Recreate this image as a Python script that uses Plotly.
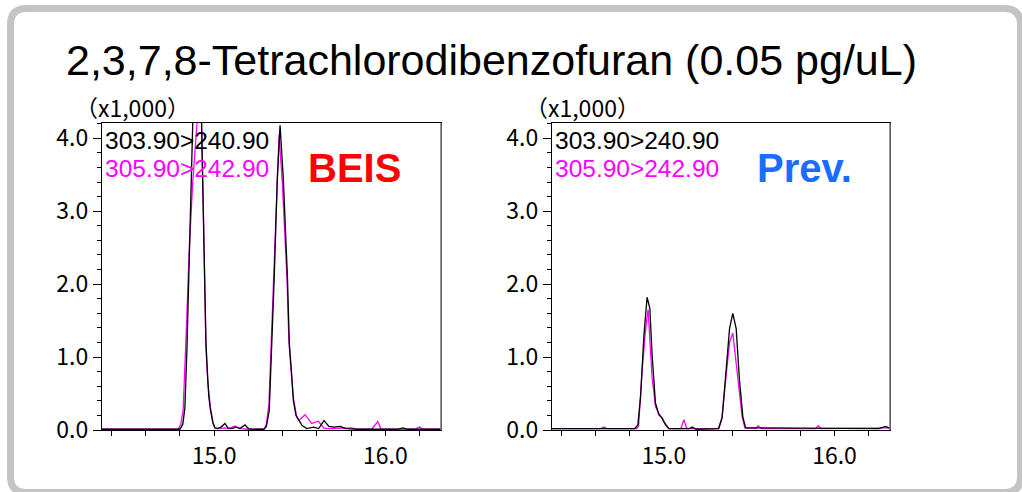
import plotly.graph_objects as go

W, H = 1022, 492

title_text = "2,3,7,8-Tetrachlorodibenzofuran (0.05 pg/uL)"
scale_text = "（x1,000）"
trace_names = ["303.90>240.90", "305.90>242.90"]
panel_labels = ["BEIS", "Prev."]
ytick_vals = [0.0, 1.0, 2.0, 3.0, 4.0]
xtick_vals = [15.0, 16.0]

# ---- BEIS panel (intensity in x1,000) ----
beis_black_t = [14.345, 14.700, 14.800, 14.817, 14.829, 14.841, 14.852, 14.864, 14.876, 14.888,
                14.902, 14.917, 14.928, 14.942, 14.952, 14.962, 14.969, 14.979, 14.993, 15.004,
                15.020, 15.040, 15.063, 15.080, 15.100, 15.130, 15.150, 15.180, 15.200, 15.230,
                15.290, 15.305, 15.322, 15.351, 15.369, 15.385, 15.404, 15.428, 15.439, 15.452,
                15.463, 15.478, 15.492, 15.514, 15.541, 15.580, 15.610, 15.642, 15.670, 15.700,
                15.736, 15.770, 15.850, 16.070, 16.103, 16.130, 16.330]
beis_black_i = [0.01, 0.01, 0.01, 0.08, 0.30, 1.10, 2.10, 3.30, 4.40, 5.40,
                5.90, 5.40, 4.00, 2.10, 1.20, 0.73, 0.45, 0.27, 0.10, 0.03,
                0.02, 0.04, 0.09, 0.03, 0.02, 0.04, 0.02, 0.07, 0.02, 0.01,
                0.01, 0.05, 0.27, 2.10, 3.45, 4.18, 3.45, 2.10, 1.19, 0.78,
                0.40, 0.20, 0.14, 0.06, 0.02, 0.04, 0.02, 0.13, 0.05, 0.04,
                0.05, 0.02, 0.01, 0.01, 0.03, 0.01, 0.01]

beis_mag_t = [14.345, 14.790, 14.805, 14.819, 14.838, 14.855, 14.875, 14.897, 14.912, 14.927,
              14.934, 14.942, 14.952, 14.963, 14.979, 14.993, 15.004, 15.030, 15.060, 15.090,
              15.120, 15.150, 15.200, 15.292, 15.305, 15.320, 15.348, 15.366, 15.379, 15.398,
              15.425, 15.437, 15.450, 15.462, 15.482, 15.495, 15.531, 15.570, 15.609, 15.640,
              15.660, 15.700, 15.804, 15.830, 15.920, 15.956, 15.975, 16.170, 16.200, 16.220,
              16.330]
beis_mag_i = [0.01, 0.01, 0.08, 0.27, 1.40, 2.50, 3.40, 4.21, 4.60, 4.21,
              3.20, 2.10, 1.15, 0.65, 0.30, 0.10, 0.03, 0.02, 0.03, 0.02,
              0.055, 0.02, 0.01, 0.01, 0.08, 0.35, 2.10, 3.40, 4.05, 3.40,
              2.10, 1.20, 0.75, 0.45, 0.18, 0.13, 0.21, 0.09, 0.12, 0.03,
              0.02, 0.02, 0.03, 0.01, 0.01, 0.115, 0.01, 0.01, 0.04, 0.01,
              0.01]

# ---- Prev. panel ----
prev_black_t = [14.345, 14.800, 14.830, 14.848, 14.864, 14.883, 14.902, 14.918, 14.931, 14.951,
                14.971, 14.990, 15.010, 15.029, 15.150, 15.166, 15.190, 15.322, 15.342, 15.365,
                15.385, 15.404, 15.424, 15.443, 15.463, 15.479, 16.260, 16.299, 16.325]
prev_black_i = [0.02, 0.02, 0.02, 0.07, 0.46, 1.28, 1.82, 1.67, 1.05, 0.37,
                0.21, 0.16, 0.07, 0.02, 0.02, 0.04, 0.01, 0.02, 0.18, 0.82,
                1.39, 1.60, 1.39, 0.69, 0.18, 0.03, 0.02, 0.05, 0.02]

prev_mag_t = [14.345, 14.630, 14.649, 14.665, 14.840, 14.852, 14.873, 14.892, 14.908, 14.931,
              14.951, 14.975, 14.990, 15.000, 15.029, 15.100, 15.117, 15.135, 15.320, 15.340,
              15.365, 15.385, 15.404, 15.429, 15.459, 15.475, 15.540, 15.552, 15.570, 15.890,
              15.904, 15.920, 16.310, 16.325]
prev_mag_i = [0.02, 0.02, 0.04, 0.02, 0.02, 0.05, 0.82, 1.35, 1.65, 0.73,
              0.32, 0.21, 0.17, 0.12, 0.02, 0.02, 0.14, 0.02, 0.02, 0.15,
              0.75, 1.20, 1.33, 0.82, 0.18, 0.03, 0.02, 0.06, 0.02, 0.02,
              0.06, 0.02, 0.02, 0.03]

BLACK = "#000000"
MAGENTA = "#ff00ff"
label_colors = ["#ff0000", "#1a6dff"]

X_RANGE = [14.345, 16.325]
Y_RANGE = [0, 4.21]

# panel pixel boxes (left, right), shared top/bottom
panels_px = [(102, 441), (552, 890)]
top_px, bot_px = 123, 430


def px(x):
    return x / W


def py(y):
    return 1 - y / H


fig = go.Figure()

data_sets = [
    (beis_mag_t, beis_mag_i, beis_black_t, beis_black_i),
    (prev_mag_t, prev_mag_i, prev_black_t, prev_black_i),
]

for k, (mt, mi, bt, bi) in enumerate(data_sets):
    xa = "x" if k == 0 else "x2"
    ya = "y" if k == 0 else "y2"
    fig.add_trace(go.Scatter(x=mt, y=mi, mode="lines", line=dict(color=MAGENTA, width=1.3),
                             xaxis=xa, yaxis=ya, showlegend=False, hoverinfo="skip"))
    fig.add_trace(go.Scatter(x=bt, y=bi, mode="lines", line=dict(color=BLACK, width=1.3),
                             xaxis=xa, yaxis=ya, showlegend=False, hoverinfo="skip"))

tickfont = dict(family="Noto Sans CJK JP", size=23, color="black")

for k, (l, r) in enumerate(panels_px):
    xdom = [px(l), px(r)]
    ydom = [py(bot_px), py(top_px)]
    xkey = "xaxis" if k == 0 else "xaxis2"
    ykey = "yaxis" if k == 0 else "yaxis2"
    anchor_y = "y" if k == 0 else "y2"
    anchor_x = "x" if k == 0 else "x2"
    fig.update_layout(**{
        xkey: dict(domain=xdom, range=X_RANGE, anchor=anchor_y, showgrid=False, zeroline=False,
                   automargin=False,
                   showline=True, linecolor="black", linewidth=1.2, mirror=True,
                   tickmode="array", tickvals=xtick_vals, ticktext=[f"{v:.1f}" for v in xtick_vals],
                   ticks="outside", ticklen=5, tickcolor="black", tickwidth=1,
                   minor=dict(dtick=0.2, tick0=14.0, ticks="outside", ticklen=5, tickcolor="black", tickwidth=1),
                   tickfont=tickfont, ticklabelstandoff=0, fixedrange=True),
        ykey: dict(domain=ydom, range=Y_RANGE, anchor=anchor_x, showgrid=False, zeroline=False,
                   automargin=False,
                   showline=True, linecolor="black", linewidth=1.2, mirror=True,
                   tickmode="array", tickvals=ytick_vals, ticktext=[f"{v:.1f}" for v in ytick_vals],
                   ticks="outside", ticklen=8, tickcolor="black", tickwidth=1,
                   minor=dict(dtick=0.2, tick0=0, ticks="outside", ticklen=4, tickcolor="black", tickwidth=1),
                   tickfont=tickfont, ticklabelstandoff=0, fixedrange=True),
    })

legend_font = "Liberation Sans"
annotations = []
annotations.append(dict(text=title_text, x=px(64), y=py(60), xref="paper", yref="paper",
                        showarrow=False, xanchor="left", yanchor="middle",
                        font=dict(family="Liberation Sans", size=43, color="black")))
for k, (l, r) in enumerate(panels_px):
    annotations.append(dict(text=scale_text, x=px(l - 29), y=py(107), xref="paper", yref="paper",
                            showarrow=False, xanchor="left", yanchor="middle",
                            font=dict(family="Noto Sans CJK JP", size=23, color="black")))
    annotations.append(dict(text=trace_names[0], x=px(l + 1), y=py(140), xref="paper", yref="paper",
                            showarrow=False, xanchor="left", yanchor="middle",
                            font=dict(family=legend_font, size=24.5, color=BLACK)))
    annotations.append(dict(text=trace_names[1], x=px(l + 1), y=py(168), xref="paper", yref="paper",
                            showarrow=False, xanchor="left", yanchor="middle",
                            font=dict(family=legend_font, size=24.5, color=MAGENTA)))
    annotations.append(dict(text="<b>" + panel_labels[k] + "</b>", x=px(l + 252), y=py(168),
                            xref="paper", yref="paper", showarrow=False, xanchor="center", yanchor="middle",
                            font=dict(family="Liberation Sans", size=40, color=label_colors[k])))

# outer rounded frame
L, T, R, B, rad = 10.5, 8.5, 1020.5, 492.5, 16
path = (f"M {px(L)} {py(T + rad)} Q {px(L)} {py(T)} {px(L + rad)} {py(T)} "
        f"L {px(R - rad)} {py(T)} Q {px(R)} {py(T)} {px(R)} {py(T + rad)} "
        f"L {px(R)} {py(B - rad)} Q {px(R)} {py(B)} {px(R - rad)} {py(B)} "
        f"L {px(L + rad)} {py(B)} Q {px(L)} {py(B)} {px(L)} {py(B - rad)} Z")
shapes = [dict(type="path", path=path, xref="paper", yref="paper",
               line=dict(color="#c4c4c4", width=7), fillcolor="rgba(0,0,0,0)", layer="below")]
# grey right edge of each panel frame
for k, (l, r) in enumerate(panels_px):
    shapes.append(dict(type="line", x0=px(r), x1=px(r), y0=py(bot_px), y1=py(top_px),
                       xref="paper", yref="paper", line=dict(color="#7a7a7a", width=1.6)))

fig.update_layout(width=W, height=H, margin=dict(l=0, r=0, t=0, b=0, autoexpand=False),
                  paper_bgcolor="white", plot_bgcolor="white",
                  annotations=annotations, shapes=shapes, showlegend=False)

fig.write_html("out.html", config={"displayModeBar": False},
               post_script="document.body.style.margin='0';document.body.style.overflow='hidden';")
